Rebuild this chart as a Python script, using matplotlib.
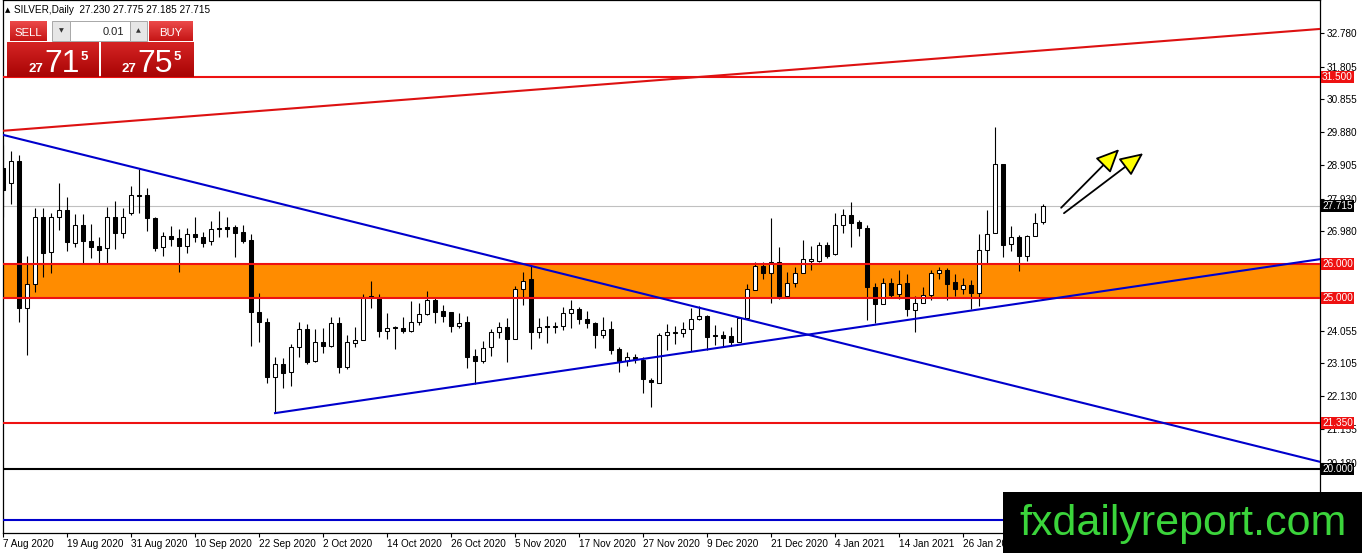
import numpy as np
import matplotlib
matplotlib.use("Agg")
import matplotlib.pyplot as plt
from matplotlib.patches import Rectangle
from matplotlib.colors import LinearSegmentedColormap
from matplotlib import transforms, font_manager

# dados (SILVER diario, 7 Aug 2020 ate 9 Feb 2021)
opens = [28.83, 28.38, 29.02, 24.71, 25.41, 27.40, 26.35, 27.38, 27.60, 26.62,
         27.15, 26.68, 26.54, 26.47, 27.40, 26.93, 27.50, 28.03, 28.02, 27.35,
         26.50, 26.83, 26.77, 26.55, 26.89, 26.80, 26.67, 27.07, 27.09, 27.09,
         26.94, 26.71, 24.61, 24.30, 22.68, 23.06, 22.83, 23.56, 24.09, 23.15,
         23.71, 23.61, 24.27, 22.97, 23.70, 23.78, 25.07, 25.05, 24.05, 24.17,
         24.14, 24.05, 24.32, 24.53, 24.95, 24.63, 24.60, 24.20, 24.30, 23.30,
         23.17, 23.56, 24.01, 24.15, 23.80, 25.27, 25.57, 24.01, 24.18, 24.17,
         24.20, 24.56, 24.69, 24.39, 24.29, 23.93, 24.09, 23.51, 23.17, 23.29,
         23.18, 22.60, 22.52, 23.91, 23.99, 23.98, 24.09, 24.39, 24.48, 23.92,
         23.93, 23.88, 23.73, 24.42, 25.25, 25.95, 25.74, 26.08, 25.07, 25.44,
         25.74, 26.11, 26.11, 26.57, 26.30, 27.16, 27.45, 27.24, 27.06, 25.33,
         24.83, 25.46, 25.12, 25.44, 24.66, 24.86, 25.10, 25.74, 25.83, 25.47,
         25.27, 25.39, 25.17, 26.42, 26.91, 28.95, 26.59, 26.79, 26.25, 26.83,
         27.23]
highs = [29.50, 29.34, 29.21, 26.23, 27.65, 27.65, 27.52, 28.38, 27.97, 27.48,
         27.48, 27.19, 26.81, 27.69, 27.86, 27.65, 28.30, 28.79, 28.23, 27.38,
         26.94, 27.13, 27.03, 27.08, 27.40, 26.95, 27.26, 27.57, 27.38, 27.15,
         27.16, 26.88, 25.15, 24.42, 23.28, 23.24, 23.66, 24.32, 24.24, 24.10,
         24.12, 24.45, 24.45, 23.93, 24.17, 25.13, 25.51, 25.13, 24.56, 24.20,
         24.45, 24.92, 24.86, 25.23, 25.03, 24.81, 24.60, 24.56, 24.49, 23.51,
         23.75, 24.10, 24.32, 24.42, 25.37, 25.78, 25.98, 24.42, 24.48, 24.32,
         24.76, 24.95, 24.76, 24.63, 24.32, 24.46, 24.34, 23.58, 23.43, 23.37,
         23.27, 22.67, 23.98, 24.25, 24.19, 24.32, 24.71, 24.78, 24.52, 24.22,
         24.04, 24.15, 24.46, 25.41, 26.06, 26.08, 27.35, 26.52, 25.76, 25.93,
         26.72, 26.54, 26.64, 26.64, 27.50, 27.63, 27.84, 27.30, 27.16, 25.44,
         25.59, 25.59, 25.83, 25.71, 25.07, 25.34, 25.83, 25.93, 25.90, 25.72,
         25.59, 25.54, 26.89, 27.60, 30.02, 28.95, 27.13, 26.86, 26.86, 27.50,
         27.775]
lows = [27.40, 27.76, 24.32, 23.34, 25.20, 25.64, 25.74, 27.01, 26.40, 26.52,
        26.03, 26.18, 26.03, 26.03, 26.44, 26.77, 27.46, 27.50, 26.99, 26.40,
        26.23, 26.54, 25.76, 26.32, 26.64, 26.50, 26.58, 26.81, 26.81, 26.21,
        26.62, 23.60, 23.73, 22.52, 21.63, 22.36, 22.44, 23.29, 23.06, 23.12,
        23.39, 23.58, 22.80, 22.92, 23.58, 23.78, 24.71, 23.86, 23.80, 23.51,
        23.98, 24.02, 24.22, 24.50, 24.28, 24.32, 24.01, 24.12, 22.95, 22.48,
        23.09, 23.32, 23.83, 23.14, 23.80, 24.81, 23.51, 23.83, 23.70, 23.98,
        24.07, 24.14, 24.25, 24.12, 23.55, 23.83, 23.36, 22.85, 23.01, 23.09,
        22.23, 21.82, 22.52, 23.47, 23.66, 23.86, 23.44, 24.35, 23.48, 23.63,
        23.58, 23.60, 23.73, 24.41, 25.25, 25.57, 24.87, 24.98, 25.01, 25.33,
        25.74, 25.83, 26.06, 26.18, 26.28, 26.91, 26.52, 26.84, 24.37, 24.27,
        24.82, 25.00, 24.97, 24.49, 24.02, 24.86, 24.95, 25.56, 24.95, 25.08,
        25.13, 24.68, 24.78, 26.03, 26.91, 26.21, 26.39, 25.81, 26.11, 26.83,
        27.185]
closes = [28.18, 29.02, 24.71, 25.41, 27.40, 26.32, 27.40, 27.60, 26.64, 27.15,
          26.67, 26.52, 26.42, 27.40, 26.91, 27.40, 28.02, 28.00, 27.35, 26.49,
          26.83, 26.75, 26.55, 26.89, 26.79, 26.62, 27.03, 27.03, 27.05, 26.91,
          26.67, 24.61, 24.30, 22.68, 23.06, 22.80, 23.56, 24.09, 23.14, 23.71,
          23.61, 24.27, 22.97, 23.71, 23.77, 25.05, 25.00, 24.05, 24.14, 24.13,
          24.05, 24.30, 24.53, 24.94, 24.61, 24.49, 24.20, 24.27, 23.29, 23.17,
          23.53, 24.01, 24.15, 23.80, 25.27, 25.51, 24.00, 24.15, 24.16, 24.19,
          24.56, 24.69, 24.38, 24.27, 23.93, 24.07, 23.49, 23.16, 23.27, 23.23,
          22.62, 22.54, 23.93, 24.01, 24.00, 24.09, 24.39, 24.48, 23.86, 23.88,
          23.83, 23.73, 24.42, 25.27, 25.96, 25.74, 26.08, 25.07, 25.44, 25.74,
          26.15, 26.16, 26.57, 26.25, 27.16, 27.45, 27.21, 27.06, 25.34, 24.83,
          25.46, 25.10, 25.41, 24.68, 24.86, 25.10, 25.74, 25.83, 25.41, 25.27,
          25.39, 25.17, 26.42, 26.89, 28.95, 26.57, 26.79, 26.25, 26.83, 27.21,
          27.715]

date_labels = ['7 Aug 2020', '19 Aug 2020', '31 Aug 2020', '10 Sep 2020', '22 Sep 2020',
               '2 Oct 2020', '14 Oct 2020', '26 Oct 2020', '5 Nov 2020', '17 Nov 2020',
               '27 Nov 2020', '9 Dec 2020', '21 Dec 2020', '4 Jan 2021', '14 Jan 2021',
               '26 Jan 2021']
price_ticks = [32.780, 31.805, 30.855, 29.880, 28.905, 27.930, 26.980,
               24.055, 23.105, 22.130, 21.155, 20.180]

# linhas desenhadas no grafico (barra, preco)
red_trend = ([0, 164.6], [29.92, 32.91])
blue_down = ([0, 164.6], [29.80, 20.20])
blue_up = ([34, 164.6], [21.63, 26.15])
red_levels = [31.50, 26.00, 25.00, 21.35]
black_level = 20.00
blue_level = 18.49
bid = 27.715
zone = (25.00, 26.00)
arrow_from = [(132.25, 27.66), (132.6, 27.50)]
arrow_to = [(139.5, 29.38), (142.5, 29.26)]

# etiquetas de preco no eixo direito (valor, texto, fundo)
level_tags = [(31.50, '31.500', '#EE1111'), (27.715, '27.715', 'black'),
              (26.00, '26.000', '#EE1111'), (25.00, '25.000', '#EE1111'),
              (21.35, '21.350', '#EE1111'), (20.00, '20.000', 'black')]

header = 'SILVER,Daily  27.230 27.775 27.185 27.715'

RED = '#EE1111'
BLUE = '#0000CC'
FS = 7.2
plt.rcParams['font.family'] = ['Liberation Sans', 'DejaVu Sans']

W, H = 1362, 553
fig = plt.figure(figsize=(W / 100, H / 100), dpi=100)
ax = fig.add_axes([3 / W, (H - 533) / H, (1320 - 3) / W, 533 / H])
ax.set_xlim(0, 164.6)
ax.set_ylim(18.11, 33.76)

# zona laranja
ax.axhspan(zone[0], zone[1], color='#FF8C00', lw=0, zorder=1)
ax.axhline(bid, color='#C0C0C0', lw=0.8, zorder=1.5)

# velas
x = np.arange(len(opens))
o = np.array(opens)
h = np.array(highs)
l = np.array(lows)
c = np.array(closes)
up = c > o
ax.vlines(x, l, h, color='black', lw=0.8, zorder=3)
body_lo = np.minimum(o, c)
body_h = np.maximum(np.abs(c - o), 0.03)
ax.bar(x[up], body_h[up], bottom=body_lo[up], width=0.58, facecolor='white',
       edgecolor='black', lw=0.75, zorder=3.1)
ax.bar(x[~up], body_h[~up], bottom=body_lo[~up], width=0.58, facecolor='black',
       edgecolor='black', lw=0.75, zorder=3.1)

# linhas horizontais e de tendencia
for lv in red_levels:
    ax.axhline(lv, color=RED, lw=1.5, zorder=4)
ax.axhline(black_level, color='black', lw=1.5, zorder=4)
ax.axhline(blue_level, color=BLUE, lw=1.5, zorder=4)
ax.plot(*red_trend, color='#DD1111', lw=1.5, zorder=4)
ax.plot(*blue_down, color=BLUE, lw=1.5, zorder=4)
ax.plot(*blue_up, color=BLUE, lw=1.5, zorder=4)

# setas amarelas
for a, b in zip(arrow_from, arrow_to):
    ax.annotate('', xy=b, xytext=a, zorder=5,
                arrowprops=dict(arrowstyle='-|>,head_length=1.2,head_width=0.55',
                                mutation_scale=12, fc='yellow', ec='black', lw=1.3,
                                shrinkA=0, shrinkB=0))

# eixos
ax.yaxis.tick_right()
ax.set_yticks(price_ticks)
ax.set_yticklabels([f'{p:.3f}' for p in price_ticks])
ax.set_xticks(np.arange(len(date_labels)) * 8)
ax.set_xticklabels(date_labels, ha='left')
ax.tick_params(axis='both', labelsize=FS, length=3, width=0.8, pad=1.5, colors='black')
for s in ax.spines.values():
    s.set_linewidth(0.9)

tr = transforms.blended_transform_factory(fig.transFigure, ax.transData)
for val, txt, bg in level_tags:
    ax.text(1322 / W, val, txt, transform=tr, ha='left', va='center', fontsize=FS,
            color='white', zorder=6, clip_on=False,
            bbox=dict(facecolor=bg, edgecolor='none', pad=0.8))

# camada de cima em pixels: cabecalho, painel de compra/venda e logo
ov = fig.add_axes([0, 0, 1, 1], zorder=5)
ov.set_xlim(0, W)
ov.set_ylim(H, 0)
ov.axis('off')
ov.patch.set_alpha(0)


def grad_box(x0, y0, x1, y1, top, bottom):
    g = np.linspace(0, 1, 60).reshape(-1, 1)
    cm = LinearSegmentedColormap.from_list('g', [top, bottom])
    ov.imshow(g, extent=(x0, x1, y1, y0), cmap=cm, aspect='auto', zorder=2)


ov.text(8, 10, '\u25B2', fontsize=5, ha='center', va='center', family='DejaVu Sans')
ov.text(14, 13, header, fontsize=FS, ha='left', va='baseline')

grad_box(10, 21, 47, 41, '#EC4A4A', '#C51515')
grad_box(149, 21, 193, 41, '#EC4A4A', '#C51515')
grad_box(7, 42, 99, 77, '#D52424', '#A80404')
grad_box(101, 42, 194, 77, '#D52424', '#A80404')
ov.add_patch(Rectangle((52, 21), 18, 20, facecolor='#E6E6E6', edgecolor='#A8A8A8', lw=0.7, zorder=3))
ov.add_patch(Rectangle((70, 21), 60, 20, facecolor='white', edgecolor='#A8A8A8', lw=0.7, zorder=3))
ov.add_patch(Rectangle((130, 21), 17, 20, facecolor='#E6E6E6', edgecolor='#A8A8A8', lw=0.7, zorder=3))
ov.text(61, 31, '\u25BC', fontsize=4.5, ha='center', va='center', color='#333333', family='DejaVu Sans', zorder=4)
ov.text(138.5, 31, '\u25B2', fontsize=4.5, ha='center', va='center', color='#333333', family='DejaVu Sans', zorder=4)
ov.text(124, 35, '0.01', fontsize=8, ha='right', va='baseline', color='#222222', zorder=4)
ov.text(28.5, 35.5, 'SELL', fontsize=8.2, ha='center', va='baseline', color='white', zorder=4)
ov.text(171, 35.5, 'BUY', fontsize=8.2, ha='center', va='baseline', color='white', zorder=4)

for cx, big in [(0, '71'), (93, '75')]:
    ov.text(36 + cx, 72, '27', fontsize=9.5, fontweight='bold', ha='center', va='baseline', color='white', zorder=4)
    ov.text(62.5 + cx, 72, big, fontsize=23, ha='center', va='baseline', color='white', zorder=4)
    ov.text(84.5 + cx, 60, '5', fontsize=9.5, fontweight='bold', ha='center', va='baseline', color='white', zorder=4)

names = {f.name for f in font_manager.fontManager.ttflist}
if 'Liberation Sans Narrow' in names:
    logo_font, logo_size = 'Liberation Sans Narrow', 36
else:
    logo_font, logo_size = 'Liberation Sans', 31
ov.add_patch(Rectangle((1003, 492), W - 1003, H - 492, facecolor='black', edgecolor='none', zorder=6))
ov.text(1183, 535, 'fxdailyreport.com', fontsize=logo_size, family=logo_font,
        ha='center', va='baseline', color='#3BD43B', zorder=7)

fig.savefig('out.png', dpi=100)
